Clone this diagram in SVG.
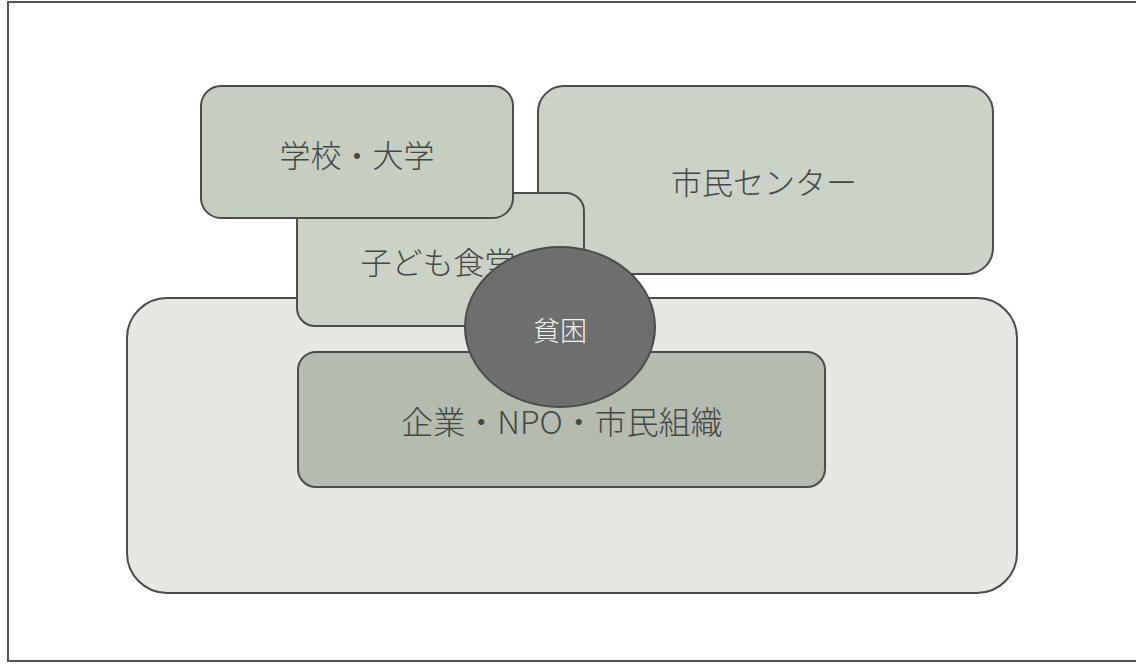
<svg xmlns="http://www.w3.org/2000/svg" width="1136" height="670" viewBox="0 0 1136 670">
<style>
.box{stroke:#4a4d49;stroke-width:2}
.lbl{font-family:"Noto Sans CJK JP","Noto Sans",sans-serif;font-weight:300;fill:#454745;text-anchor:middle;dominant-baseline:central}
</style>
<rect width="1136" height="670" fill="#ffffff"/>
<rect x="8" y="2" width="1140" height="659" fill="none" stroke="#555" stroke-width="2"/>
<g id="community">
<rect class="box" x="127" y="298" width="890" height="295" rx="40" fill="#e5e9e1"/>
</g>
<g id="shimin-center">
<rect class="box" x="538" y="86" width="455" height="188" rx="26" fill="#cbd2c8"/>
<text class="lbl" x="764" y="180" font-size="31">市民センター</text>
</g>
<g id="kodomo-shokudo">
<rect class="box" x="297" y="193" width="287" height="133" rx="18" fill="#cbd2c8"/>
<text class="lbl" x="438" y="260" font-size="31">子ども食堂</text>
</g>
<g id="gakko">
<rect class="box" x="201" y="86" width="312" height="132" rx="20" fill="#c6cdc3"/>
<text class="lbl" x="357" y="153" font-size="31">学校・大学</text>
</g>
<g id="kigyo">
<rect class="box" x="298" y="352" width="527" height="135" rx="18" fill="#b4bbb1"/>
<text class="lbl" x="562" y="420" font-size="32">企業・NPO・市民組織</text>
</g>
<g id="hinkon">
<ellipse class="box" cx="560" cy="327" rx="95" ry="80" fill="#6c6f6b"/>
<text class="lbl" x="560" y="329" font-size="27" style="fill:#f2f2f2">貧困</text>
</g>
<g id="connectors"></g>
</svg>
